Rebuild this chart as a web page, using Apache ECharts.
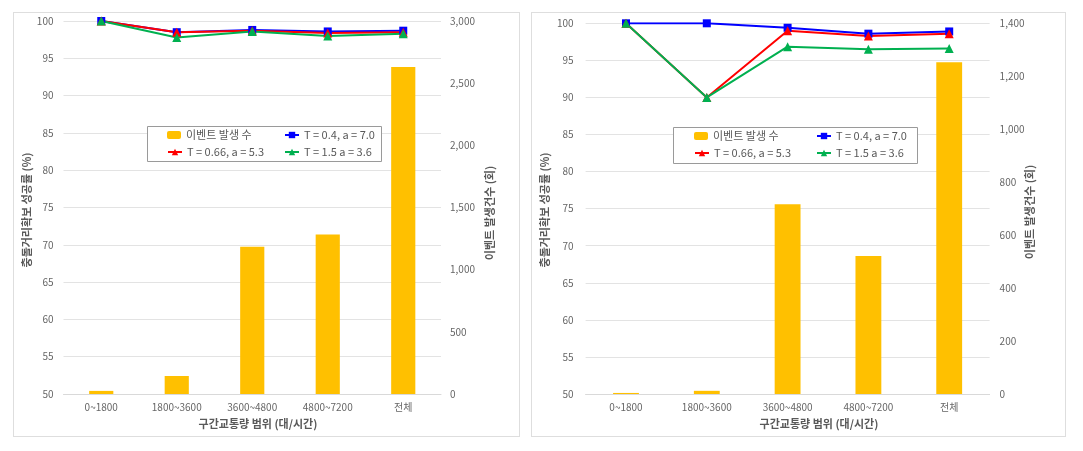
<!DOCTYPE html>
<html>
<head>
<meta charset="utf-8">
<script src="https://cdn.jsdelivr.net/npm/echarts@6/dist/echarts.min.js"></script>
<style>
html,body{margin:0;padding:0;background:#fff;width:1083px;height:451px;overflow:hidden;}
.frame{position:absolute;border:1px solid #dedede;box-sizing:border-box;pointer-events:none;}
.chart{position:absolute;}
</style>
</head>
<body>
<div class="chart" id="c1" style="left:13px;top:12px;width:506px;height:424px;"></div>
<div class="chart" id="c2" style="left:531px;top:12px;width:534px;height:424px;"></div>
<div class="frame" style="left:13px;top:12px;width:507px;height:425px;"></div>
<div class="frame" style="left:531px;top:12px;width:535px;height:425px;"></div>
<script>
// ---- data ----
const categories = ['0~1800', '1800~3600', '3600~4800', '4800~7200', '전체'];
const seriesNames = ['이벤트 발생 수', 'T = 0.4, a = 7.0', 'T = 0.66, a = 5.3', 'T = 1.5 a = 3.6'];
const leftAxisTitle = '충돌거리확보 성공률 (%)';
const rightAxisTitle = '이벤트 발생건수 (회)';
const xAxisTitle = '구간교통량 범위 (대/시간)';

// left panel
const eventsA = [25, 145, 1185, 1282, 2630];
const blueA = [100, 98.5, 98.8, 98.6, 98.7];
const redA = [100, 98.5, 98.7, 98.4, 98.5];
const greenA = [100, 97.8, 98.6, 98.0, 98.3];
const rightMaxA = 3000, rightStepA = 500;

// right panel
const eventsB = [4, 12, 717, 521, 1253];
const blueB = [100, 100, 99.4, 98.6, 98.9];
const redB = [100, 90, 99.0, 98.3, 98.6];
const greenB = [100, 90, 96.85, 96.5, 96.6];
const rightMaxB = 1400, rightStepB = 200;

const leftMin = 50, leftMax = 100, leftStep = 5;

const FONT = '"Noto Sans CJK KR", "Noto Sans", sans-serif';
const TXT = '#595959';

function build(el, L) {
  const chart = echarts.init(document.getElementById(el), null, {renderer: 'canvas'});
  const legendText = {color: TXT, fontSize: 11, fontFamily: FONT, lineHeight: 14};
  const legends = [
    {name: seriesNames[0], x: L.c1, y: L.r1},
    {name: seriesNames[1], x: L.c2, y: L.r1},
    {name: seriesNames[2], x: L.c1, y: L.r2},
    {name: seriesNames[3], x: L.c2, y: L.r2}
  ].map(o => ({
    data: [o.name], left: o.x, top: o.y - 7, padding: 0,
    itemWidth: 14, itemHeight: 8, textStyle: legendText, selectedMode: false
  }));
  const lineCommon = (name, data, color, symbol) => ({
    name, type: 'line', yAxisIndex: 0, data,
    symbol, symbolSize: symbol === 'rect' ? 8 : 9,
    lineStyle: {color, width: 2},
    itemStyle: {color},
    z: 3, animation: false
  });
  chart.setOption({
    animation: false,
    textStyle: {fontFamily: FONT},
    grid: {left: L.gl, top: L.gt, width: L.gw, height: L.gh, containLabel: false},
    legend: legends,
    xAxis: {
      type: 'category', data: categories,
      axisLine: {lineStyle: {color: '#d9d9d9'}},
      axisTick: {show: false},
      axisLabel: {color: '#666', fontSize: 10, fontFamily: FONT, margin: 8}
    },
    yAxis: [
      {
        type: 'value', min: leftMin, max: leftMax, interval: leftStep,
        axisLine: {show: false}, axisTick: {show: false},
        axisLabel: {color: '#666', fontSize: 10, fontFamily: FONT, margin: L.lm},
        splitLine: {lineStyle: {color: '#e3e3e3'}}
      },
      {
        type: 'value', min: 0, max: L.rmax, interval: L.rstep, position: 'right',
        axisLine: {show: false}, axisTick: {show: false},
        axisLabel: {color: '#666', fontSize: 10, fontFamily: FONT, margin: L.rm,
          formatter: v => v.toLocaleString('en-US')},
        splitLine: {show: false}
      }
    ],
    series: [
      {name: seriesNames[0], type: 'bar', yAxisIndex: 1, data: L.ev, barWidth: '32%',
        itemStyle: {color: '#FFC000'}, z: 2},
      lineCommon(seriesNames[1], L.b, '#0000FF', 'rect'),
      lineCommon(seriesNames[2], L.r, '#FF0000', 'triangle'),
      lineCommon(seriesNames[3], L.g, '#00B050', 'triangle')
    ],
    graphic: [
      {type: 'rect', shape: {x: L.box[0] + 0.5, y: L.box[1] + 0.5, width: L.box[2], height: L.box[3]},
        style: {fill: '#fff', stroke: '#9a9a9a', lineWidth: 1}, z: 4},
      {type: 'text', x: L.ltx, y: L.lty, rotation: Math.PI / 2,
        style: {text: leftAxisTitle, fill: TXT, font: 'bold 11px ' + FONT, align: 'center', verticalAlign: 'middle'}},
      {type: 'text', x: L.rtx, y: L.rty, rotation: Math.PI / 2,
        style: {text: rightAxisTitle, fill: TXT, font: 'bold 11px ' + FONT, align: 'center', verticalAlign: 'middle'}},
      {type: 'text', x: L.xtx, y: L.xty,
        style: {text: xAxisTitle, fill: TXT, font: 'bold 11px ' + FONT, align: 'center', verticalAlign: 'middle'}}
    ]
  });
}

build('c1', {
  gl: 50.5, gt: 9, gw: 377.5, gh: 373, lm: 10, rm: 9,
  rmax: rightMaxA, rstep: rightStepA,
  ev: eventsA, b: blueA, r: redA, g: greenA,
  box: [134, 114, 234, 35], c1: 154, c2: 271, r1: 123, r2: 140,
  ltx: 14, lty: 198, rtx: 477, rty: 201, xtx: 245, xty: 412
});
build('c2', {
  gl: 54.6, gt: 11.3, gw: 404, gh: 370.7, lm: 12, rm: 10,
  rmax: rightMaxB, rstep: rightStepB,
  ev: eventsB, b: blueB, r: redB, g: greenB,
  box: [142, 115, 244, 36], c1: 163, c2: 285, r1: 124, r2: 141,
  ltx: 14, lty: 198, rtx: 499, rty: 200, xtx: 288, xty: 412
});
</script>
</body>
</html>
